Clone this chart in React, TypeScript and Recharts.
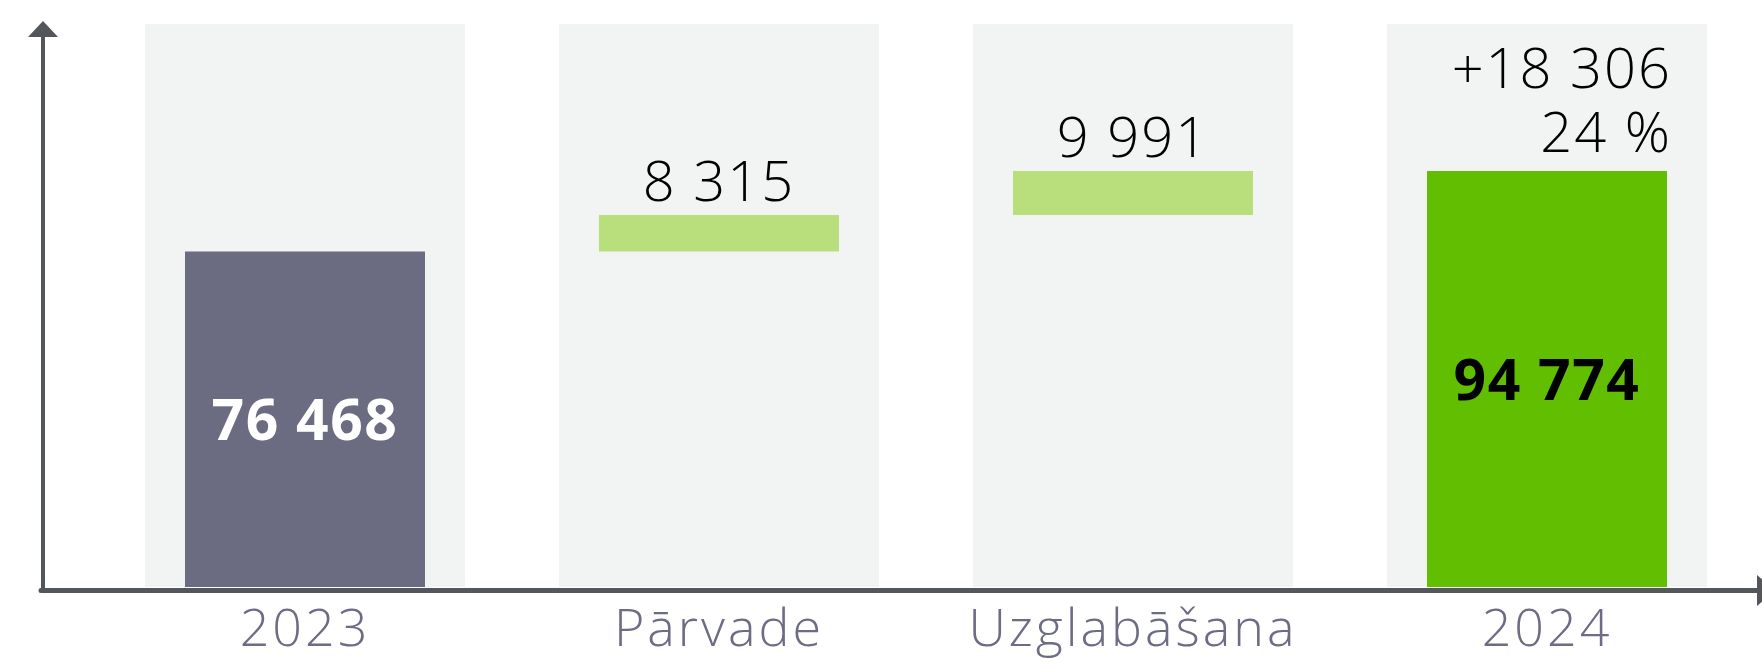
import React from 'react';
import { BarChart, Bar, XAxis, YAxis, LabelList, Cell } from 'recharts';

const categories = ['2023', 'Pārvade', 'Uzglabāšana', '2024'];
const values = [76468, 8315, 9991, 94774];
const kinds = ['total', 'step', 'step', 'total'];
const colors = ['#6b6b82', '#b8df7b', '#b8df7b', '#62be00'];

const FONT = "'Open Sans', Lato, 'Noto Sans', sans-serif";
const AXIS = '#53575b';

const fmt = (n: number) => String(Math.round(n)).replace(/\B(?=(\d{3})+(?!\d))/g, ' ');

let running = 0;
const data = categories.map((name, i) => {
  let base = 0;
  if (kinds[i] === 'total') {
    running = values[i];
    base = 0;
  } else {
    base = running;
    running += values[i];
  }
  return { name, base, value: values[i] };
});

const startTotal = values[0];
const endTotal = values[values.length - 1];
const diff = endTotal - startTotal;
const pct = Math.round((diff / startTotal) * 100);

const Background = (props: any) => (
  <rect
    x={props.x - 40}
    y={props.y}
    width={props.width + 80}
    height={props.height}
    fill="#f2f4f3"
  />
);

const ValueLabel = (props: any) => {
  const { x, y, width, height, value } = props;
  let index = props.index;
  if (index === undefined) index = values.indexOf(value);
  const cx = x + width / 2;
  if (kinds[index] === 'total') {
    const isLast = index === values.length - 1;
    return (
      <g>
        <text
          x={cx}
          y={y + height / 2 + 21}
          textAnchor="middle"
          fontFamily={FONT}
          fontWeight={700}
          fontSize={57}
          letterSpacing={1.5}
          fill={isLast ? '#000000' : '#ffffff'}
        >
          {fmt(value)}
        </text>
        {isLast && (
          <text
            x={x + width + 5}
            y={y - 83}
            textAnchor="end"
            fontFamily={FONT}
            fontWeight={300}
            fontSize={56}
            letterSpacing={2}
            fill="#000"
          >
            <tspan x={x + width + 5}>{(diff >= 0 ? '+' : '') + fmt(diff)}</tspan>
            <tspan x={x + width + 5} dy={64}>{pct + ' %'}</tspan>
          </text>
        )}
      </g>
    );
  }
  return (
    <text x={cx} y={y - 14} textAnchor="middle" fontFamily={FONT} fontWeight={300} fontSize={56} letterSpacing={2} fill="#000">
      {fmt(value)}
    </text>
  );
};

const Tick = (props: any) => (
  <text
    x={props.x}
    y={props.y + 59}
    textAnchor="middle"
    fontFamily={FONT}
    fontWeight={300}
    fontSize={52}
    letterSpacing={3}
    fill="#6c6c85"
  >
    {props.payload.value}
  </text>
);

export default function App() {
  return (
    <div style={{ position: 'absolute', left: 0, top: 0, width: 1762, height: 662, background: '#fff' }}>
      <BarChart
        width={1762}
        height={662}
        data={data}
        margin={{ top: 24, right: 8, bottom: 0, left: 41 }}
        barSize={240}
      >
        <XAxis
          dataKey="name"
          axisLine={false}
          tickLine={false}
          tickSize={0}
          tickMargin={0}
          height={75}
          interval={0}
          padding={{ left: 57, right: 0 }}
          tick={Tick}
        />
        <YAxis hide domain={[0, 128300]} />
        <Bar dataKey="base" stackId="w" fill="transparent" isAnimationActive={false} />
        <Bar dataKey="value" stackId="w" isAnimationActive={false} background={Background}>
          {data.map((d, i) => (
            <Cell key={d.name} fill={colors[i]} />
          ))}
          <LabelList dataKey="value" content={ValueLabel} />
        </Bar>
      </BarChart>
      <svg
        width={1762}
        height={662}
        style={{ position: 'absolute', left: 0, top: 0, pointerEvents: 'none' }}
      >
        <line x1={43} y1={36} x2={43} y2={592} stroke={AXIS} strokeWidth={4} />
        <polygon points="43,21 28,37 58,37" fill={AXIS} />
        <line x1={41} y1={590.5} x2={1760} y2={590.5} stroke={AXIS} strokeWidth={5} strokeLinecap="round" />
        <polygon points="1757,575 1757,606 1775,590.5" fill={AXIS} />
      </svg>
    </div>
  );
}
